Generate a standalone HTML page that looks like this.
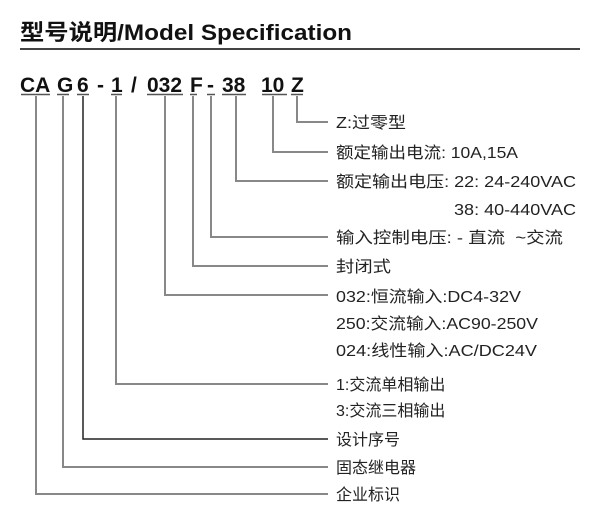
<!DOCTYPE html>
<html><head><meta charset="utf-8"><style>
html,body{margin:0;padding:0;background:#fff;width:600px;height:523px;overflow:hidden}
svg text{font-family:"Liberation Sans","Noto Sans CJK SC",sans-serif}
</style></head><body>
<svg width="600" height="523" xmlns="http://www.w3.org/2000/svg">
<text x="20" y="40" font-size="22" font-weight="bold" fill="#111" textLength="332" lengthAdjust="spacingAndGlyphs">型号说明/Model Specification</text>
<line x1="20" y1="49" x2="580" y2="49" stroke="#444" stroke-width="2"/>
<g font-size="21" font-weight="bold" fill="#111">
<text x="20" y="92">CA</text><text x="57" y="92">G</text><text x="77" y="92">6</text>
<text x="97" y="92">-</text><text x="111" y="92">1</text><text x="131" y="92">/</text>
<text x="147" y="92">032</text><text x="190" y="92">F</text><text x="207" y="92">-</text>
<text x="222" y="92">38</text><text x="261" y="92">10</text><text x="291" y="92">Z</text>
</g>
<g stroke="#555" stroke-width="1.5">
<line x1="21" y1="94.5" x2="50" y2="94.5"/><line x1="57" y1="94.5" x2="69" y2="94.5"/>
<line x1="77" y1="94.5" x2="89" y2="94.5"/><line x1="111" y1="94.5" x2="122" y2="94.5"/>
<line x1="147" y1="94.5" x2="183" y2="94.5"/><line x1="190" y1="94.5" x2="197" y2="94.5"/>
<line x1="207" y1="94.5" x2="215" y2="94.5"/><line x1="222" y1="94.5" x2="246" y2="94.5"/>
<line x1="262" y1="94.5" x2="287" y2="94.5"/><line x1="291" y1="94.5" x2="303" y2="94.5"/>
</g>
<g stroke="#888" stroke-width="2" fill="none">
<polyline points="297,96 297,122 328,122"/>
<polyline points="273,96 273,152 328,152"/>
<polyline points="236,96 236,181 328,181"/>
<polyline points="211,96 211,237 328,237"/>
<polyline points="193,96 193,266 328,266"/>
<polyline points="165,96 165,295 328,295"/>
<polyline points="116,96 116,384 328,384"/>
<polyline points="83,96 83,439 328,439" stroke="#222" stroke-width="1.5"/>
<polyline points="63,96 63,467 328,467"/>
<polyline points="36,96 36,494 328,494"/>
</g>
<g font-size="16" fill="#222">
<text x="336" y="128" textLength="70" lengthAdjust="spacingAndGlyphs">Z:过零型</text>
<text x="336" y="158" textLength="182" lengthAdjust="spacingAndGlyphs">额定输出电流: 10A,15A</text>
<text x="336" y="187" textLength="240" lengthAdjust="spacingAndGlyphs">额定输出电压: 22: 24-240VAC</text>
<text x="454" y="215" textLength="122" lengthAdjust="spacingAndGlyphs">38: 40-440VAC</text>
<text x="336" y="243" textLength="227" lengthAdjust="spacingAndGlyphs">输入控制电压: - 直流 &#160;~交流</text>
<text x="336" y="272" textLength="55" lengthAdjust="spacingAndGlyphs">封闭式</text>
<text x="336" y="302" textLength="185" lengthAdjust="spacingAndGlyphs">032:恒流输入:DC4-32V</text>
<text x="336" y="329" textLength="202" lengthAdjust="spacingAndGlyphs">250:交流输入:AC90-250V</text>
<text x="336" y="356" textLength="201" lengthAdjust="spacingAndGlyphs">024:线性输入:AC/DC24V</text>
<text x="336" y="390">1:交流单相输出</text>
<text x="336" y="416">3:交流三相输出</text>
<text x="336" y="445">设计序号</text>
<text x="336" y="473">固态继电器</text>
<text x="336" y="500">企业标识</text>
</g>
</svg>
</body></html>
